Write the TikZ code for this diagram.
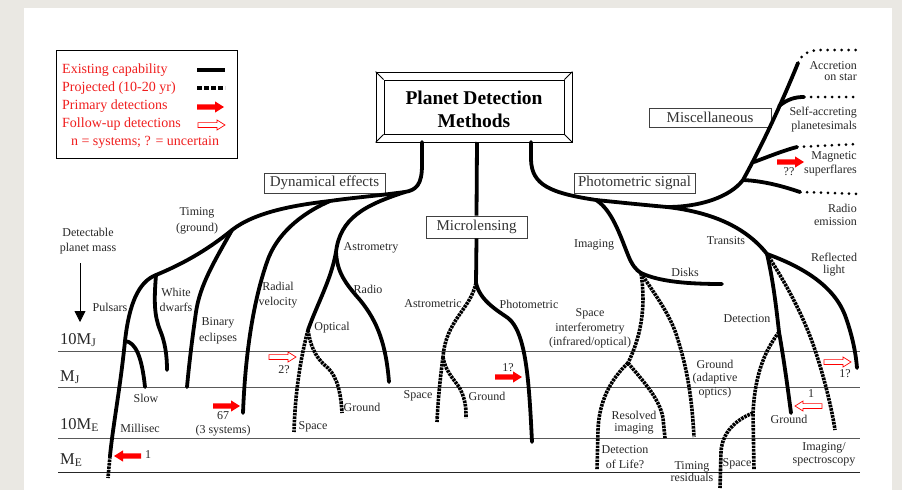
\documentclass[tikz,border=0pt]{standalone}
\usepackage{fontspec}
\setmainfont{Liberation Serif}
\usetikzlibrary{arrows.meta}

\definecolor{pagebg}{RGB}{234,232,227}
\definecolor{legendred}{RGB}{240,30,30}
\definecolor{labelgray}{RGB}{40,40,40}

\begin{document}
\begin{tikzpicture}[x=1pt,y=-1pt,
  solidbranch/.style={line width=3.8pt, line cap=round, line join=round},
  projbranch/.style={line width=3.6pt, dash pattern=on 2.6pt off 0.9pt},
  dotbranch/.style={line width=3pt, line cap=round, dash pattern=on 0pt off 7pt},
  massline/.style={draw=black!65, line width=0.9pt},
  lbl/.style={font=\fontsize{12}{15}\selectfont, text=labelgray, inner sep=0pt, align=center},
  masslbl/.style={font=\fontsize{16.5}{18}\selectfont, text=labelgray, inner sep=0pt, anchor=west},
  catbox/.style={draw=black!75, line width=0.8pt, font=\fontsize{15}{17}\selectfont, text=black!80, inner sep=0pt, minimum height=20pt},
  legtext/.style={font=\fontsize{14}{16}\selectfont, text=legendred, inner sep=0pt, anchor=west},
  primarr/.pic={\fill[red] (0,-2.6) -- (18,-2.6) -- (18,-5.6) -- (27,0) -- (18,5.6) -- (18,2.6) -- (0,2.6) -- cycle;},
  followarr/.pic={\draw[red, line width=0.7pt, line join=miter] (0,-2.4) -- (19,-2.4) -- (19,-5) -- (27,0) -- (19,5) -- (19,2.4) -- (0,2.4) -- cycle;},
]

% page and surround
\fill[pagebg] (0,0) rectangle (902,490);
\fill[white] (24,8) rectangle (892,490);
\useasboundingbox (0,0) rectangle (902,490);

% ---------- legend ----------
\node[draw=black, line width=0.8pt, minimum width=181pt, minimum height=108pt, inner sep=0pt] (legend) at (146.5,104) {};
\node[legtext] (lg1) at (62,70) {Existing capability};
\node[legtext] (lg2) at (62,88) {Projected (10-20 yr)};
\node[legtext] (lg3) at (62,106) {Primary detections};
\node[legtext] (lg4) at (62,124) {Follow-up detections};
\node[legtext, anchor=center] (lg5) at (145,142) {n = systems; ? = uncertain};
\coordinate (lgsolidA) at (197,70);  \coordinate (lgsolidB) at (225,70);
\coordinate (lgdashA) at (197,88);   \coordinate (lgdashB) at (225,88);
\draw[line width=4pt] (lgsolidA) -- (lgsolidB);
\draw[line width=3.5pt, dash pattern=on 5pt off 2pt] (lgdashA) -- (lgdashB);
\pic (lgprim) at (197,107) {primarr};
\pic (lgfollow) at (198,125) {followarr};

% ---------- title ----------
\node[draw, line width=0.8pt, minimum width=196pt, minimum height=70pt, inner sep=0pt] (titleouter) at (474,107) {};
\node[draw, line width=0.8pt, minimum width=180pt, minimum height=54pt, inner sep=0pt] (titleinner) at (474,107) {};
\draw[line width=0.8pt] (titleouter.north west) -- (titleinner.north west)
  (titleouter.north east) -- (titleinner.north east)
  (titleouter.south west) -- (titleinner.south west)
  (titleouter.south east) -- (titleinner.south east);
\node[font=\bfseries\fontsize{19.5}{23}\selectfont, align=center, inner sep=0pt] (title) at (474,109) {Planet Detection\\Methods};

% ---------- category boxes ----------
\node[catbox, minimum width=121pt] (dyn) at (324.5,183) {Dynamical effects};
\node[catbox, minimum width=101pt, minimum height=22pt] (micro) at (476.5,227) {Microlensing};
\node[catbox, minimum width=121pt] (phot) at (634.5,183) {Photometric signal};
\node[catbox, minimum width=122pt, minimum height=19pt] (misc) at (710,117.5) {Miscellaneous};

% ---------- mass scale ----------
\node[lbl] (detect) at (88,241) {Detectable\\planet mass};
\coordinate (marrowtop) at (80,263);
\coordinate (marrowtip) at (80,322);
\draw[line width=0.8pt, -{Triangle[length=11pt,width=11pt]}] (marrowtop) -- (marrowtip);

\coordinate (mjA) at (58,351);  \coordinate (mjB) at (860,351);
\coordinate (jA) at (58,387);   \coordinate (jB) at (860,387);
\coordinate (meA) at (58,438);  \coordinate (meB) at (860,438);
\coordinate (eA) at (58,472);   \coordinate (eB) at (860,472);
\draw[massline] (mjA) -- (mjB);
\draw[massline] (jA) -- (jB);
\draw[massline] (meA) -- (meB);
\draw[massline, draw=black!85] (eA) -- (eB);
\node[masslbl] (l10mj) at (60,340) {10M\textsubscript{J}};
\node[masslbl] (lmj) at (60,377) {M\textsubscript{J}};
\node[masslbl] (l10me) at (60,425) {10M\textsubscript{E}};
\node[masslbl] (lme) at (60,460) {M\textsubscript{E}};

% ---------- dynamical effects ----------
\coordinate (dstem) at (422,142);
\coordinate (djoin) at (405,192);
\coordinate (drv) at (330,201);
\coordinate (dtim) at (232,230);
\coordinate (dpul) at (156,275);
\coordinate (dslow) at (125,341);
\coordinate (dslowend) at (145,387);
\coordinate (dpulsolid) at (110,456);
\coordinate (dpulend) at (108,478);
\coordinate (dwdend) at (167,370);
\coordinate (dbinend) at (187,387);
\coordinate (drvend) at (243,413);
\coordinate (dast) at (336,252);
\coordinate (dopt) at (308,330);
\coordinate (dradend) at (389,382);
\coordinate (dspaceend) at (294,432);
\coordinate (dgroundend) at (342,413);

\draw[solidbranch] (dstem) -- (422,165) .. controls (422,185) and (416,190) .. (djoin);
\draw[solidbranch] (djoin) .. controls (375,196) and (350,198) .. (drv)
  .. controls (295,205) and (255,212) .. (dtim)
  .. controls (205,252) and (180,265) .. (dpul);
\draw[solidbranch] (dpul) .. controls (138,282) and (129,305) .. (dslow)
  .. controls (120,390) and (113,425) .. (dpulsolid);
\draw[projbranch] (dpulsolid) -- (dpulend);
\draw[solidbranch] (dslow) .. controls (136,342) and (142,358) .. (dslowend);
\draw[solidbranch] (dpul) .. controls (154,300) and (154,315) .. (160,330)
  .. controls (165,342) and (167,355) .. (dwdend);
\draw[solidbranch] (dtim) .. controls (214,262) and (200,285) .. (196,312)
  .. controls (192,340) and (189,365) .. (dbinend);
\draw[solidbranch] (drv) .. controls (300,214) and (276,235) .. (267,262)
  .. controls (252,305) and (245,360) .. (drvend);
\draw[solidbranch] (djoin) .. controls (365,205) and (340,218) .. (dast);
\draw[solidbranch] (dast) .. controls (331,280) and (318,302) .. (dopt);
\draw[solidbranch] (dast) .. controls (337,272) and (345,283) .. (360,300)
  .. controls (378,322) and (386,345) .. (dradend);
\draw[projbranch] (dopt) .. controls (300,360) and (295,395) .. (dspaceend);
\draw[projbranch] (dopt) .. controls (311,350) and (318,360) .. (328,368)
  .. controls (338,378) and (341,395) .. (dgroundend);

\node[lbl] (tpulsars) at (110,307) {Pulsars};
\node[lbl] (twd) at (176,299.5) {White\\dwarfs};
\node[lbl, font=\fontsize{12}{16}\selectfont] (tbin) at (218,331) {Binary\\eclipses};
\node[lbl, font=\fontsize{12}{16}\selectfont] (ttim) at (197,221) {Timing\\(ground)};
\node[lbl] (trv) at (278,295.5) {Radial\\velocity};
\node[lbl] (tslow) at (146,398) {Slow};
\node[lbl] (tmsec) at (140,428) {Millisec};
\node[lbl, font=\fontsize{12}{14}\selectfont] (t67) at (223,424) {67\\(3 systems)};
\node[lbl] (tone) at (148,455) {1};
\node[lbl] (ttwo) at (284,370) {2?};
\node[lbl] (tastro) at (371,248) {Astrometry};
\node[lbl] (tradio) at (368,289) {Radio};
\node[lbl] (topt) at (332,328) {Optical};
\node[lbl] (tdground) at (362,407) {Ground};
\node[lbl] (tdspace) at (313,427) {Space};

\pic (a67) at (213,406) {primarr};
\pic[rotate=180] (apul) at (141,456) {primarr};
\pic (a2q) at (269,357) {followarr};

% ---------- microlensing ----------
\coordinate (mstem) at (477,142);
\coordinate (mjoin) at (476,283);
\coordinate (mast) at (443,357);
\coordinate (mspaceend) at (437,422);
\coordinate (mgroundend) at (466,418);
\coordinate (mphotend) at (532,442);

\draw[solidbranch, line cap=butt] (mstem) -- (micro.north);
\draw[solidbranch, line cap=butt] (micro.south) -- (mjoin);
\draw[projbranch] (mjoin) .. controls (470,310) and (446,320) .. (mast);
\draw[projbranch] (mast) .. controls (440,380) and (438,400) .. (mspaceend);
\draw[projbranch] (mast) .. controls (446,375) and (458,382) .. (462,393)
  .. controls (466,403) and (466,410) .. (mgroundend);
\draw[solidbranch] (mjoin) .. controls (480,300) and (495,309) .. (508,318)
  .. controls (526,332) and (529,380) .. (mphotend);

\node[lbl] (tmastm) at (433,304) {Astrometric};
\node[lbl] (tmphot) at (529,304) {Photometric};
\node[lbl] (tmspace) at (418,396) {Space};
\node[lbl] (tmground) at (487,396) {Ground};
\node[lbl] (tmone) at (508,368) {1?};
\pic (amicro) at (495,377) {primarr};

% ---------- photometric signal ----------
\coordinate (pstem) at (531,142);
\coordinate (pimg) at (596,200);
\coordinate (psplit) at (667,207);
\coordinate (pdisk) at (641,273);
\coordinate (pdiskend) at (722,284);
\coordinate (psi) at (628,363);
\coordinate (plifeend) at (597,470);
\coordinate (presend) at (665,438);
\coordinate (paoend) at (694,437);
\coordinate (ptrans) at (767,254);
\coordinate (prefend) at (857,368);
\coordinate (pdet) at (779,332);
\coordinate (pgroundend) at (791,413);
\coordinate (pspace) at (753,413);
\coordinate (pspaceend) at (754,470);
\coordinate (ptimend) at (720,488);
\coordinate (pimgend) at (835,430);

\draw[solidbranch] (pstem) -- (531,160) .. controls (532,185) and (550,193) .. (pimg)
  .. controls (625,203) and (645,205) .. (psplit);
\draw[solidbranch] (pimg) .. controls (612,210) and (620,235) .. (628,255)
  .. controls (632,265) and (636,270) .. (pdisk);
\draw[solidbranch] (pdisk) .. controls (660,282) and (690,284) .. (pdiskend);
\draw[projbranch] (pdisk) .. controls (645,300) and (644,330) .. (psi);
\draw[projbranch] (psi) .. controls (610,380) and (599,402) .. (598,430) -- (plifeend);
\draw[projbranch] (psi) .. controls (645,383) and (660,400) .. (663,418) -- (presend);
\draw[projbranch] (pdisk) .. controls (655,295) and (671,315) .. (678,340)
  .. controls (688,372) and (692,400) .. (paoend);
\draw[solidbranch] (psplit) .. controls (710,212) and (745,226) .. (ptrans);
\draw[solidbranch] (ptrans) .. controls (800,266) and (835,285) .. (846,318)
  .. controls (853,338) and (856,355) .. (prefend);
\draw[solidbranch] (ptrans) .. controls (773,280) and (776,305) .. (pdet);
\draw[solidbranch] (pdet) .. controls (784,360) and (788,390) .. (pgroundend);
\draw[projbranch] (pdet) .. controls (764,352) and (755,375) .. (pspace) -- (pspaceend);
\draw[projbranch] (pspace) .. controls (735,420) and (722,433) .. (721,452) -- (ptimend);
\draw[projbranch] (ptrans) .. controls (790,290) and (805,320) .. (815,350)
  .. controls (825,380) and (832,410) .. (pimgend);

\node[lbl] (tpimg) at (594,245) {Imaging};
\node[lbl] (tdisks) at (685,272) {Disks};
\node[lbl] (ttrans) at (726,241) {Transits};
\node[lbl, font=\fontsize{12}{12}\selectfont] (trefl) at (834,265) {Reflected\\light};
\node[lbl] (tpdet) at (747,319) {Detection};
\node[lbl, font=\fontsize{12}{14.5}\selectfont] (tsi) at (590,328.5) {Space\\interferometry\\(infrared/optical)};
\node[lbl, font=\fontsize{12}{13.5}\selectfont] (tao) at (715,379) {Ground\\(adaptive\\optics)};
\node[lbl, font=\fontsize{12}{12.5}\selectfont] (tres) at (634,422.5) {Resolved\\imaging};
\node[lbl] (tlife) at (625,457.5) {Detection\\of Life?};
\node[lbl, font=\fontsize{12}{12}\selectfont] (ttr) at (692,472) {Timing\\residuals};
\node[lbl] (tpspace) at (737,464) {Space};
\node[lbl] (tpground) at (789,419) {Ground};
\node[lbl] (tpone) at (811,394) {1};
\node[lbl, font=\fontsize{12}{13}\selectfont] (tis) at (824,454.5) {Imaging/\\spectroscopy};
\node[lbl] (trone) at (845,374) {1?};
\pic (arefl) at (824,362) {followarr};
\pic[rotate=180] (aground) at (822,406) {followarr};

% ---------- miscellaneous ----------
\coordinate (mradio) at (743,180);
\coordinate (mmag) at (754,162);
\coordinate (mself) at (779,106);
\coordinate (macc) at (798,63);
\coordinate (maccend) at (857,50);
\coordinate (mselfsolid) at (804,97);
\coordinate (mselfend) at (857,97);
\coordinate (mmagsolid) at (797,147);
\coordinate (mmagend) at (857,144);
\coordinate (mradsolid) at (800,192);
\coordinate (mradend) at (857,194);

\draw[solidbranch] (psplit) .. controls (700,207) and (730,197) .. (mradio)
  .. controls (765,140) and (785,95) .. (macc);
\draw[dotbranch] (macc) .. controls (802,54) and (808,51) .. (818,50) -- (maccend);
\draw[solidbranch] (mself) .. controls (788,99) and (795,97) .. (mselfsolid);
\draw[dotbranch] (mselfsolid) -- (mselfend);
\draw[solidbranch] (mmag) .. controls (770,156) and (785,150) .. (mmagsolid);
\draw[dotbranch] (mmagsolid) -- (mmagend);
\draw[solidbranch] (mradio) .. controls (765,181) and (785,187) .. (mradsolid);
\draw[dotbranch] (mradsolid) -- (mradend);

\node[lbl, anchor=east, align=right, font=\fontsize{12}{11.5}\selectfont] (tacc) at (857,71) {Accretion\\on star};
\node[lbl, anchor=east, align=right, font=\fontsize{12}{14}\selectfont] (tself) at (857,120) {Self-accreting\\planetesimals};
\node[lbl, anchor=east, align=right, font=\fontsize{12}{14}\selectfont] (tmag) at (857,164) {Magnetic\\superflares};
\node[lbl, anchor=east, align=right, font=\fontsize{12}{13}\selectfont] (trad) at (857,214.5) {Radio\\emission};
\node[lbl] (tqq) at (789,172) {??};
\pic (amag) at (777,162) {primarr};

\end{tikzpicture}
\end{document}
